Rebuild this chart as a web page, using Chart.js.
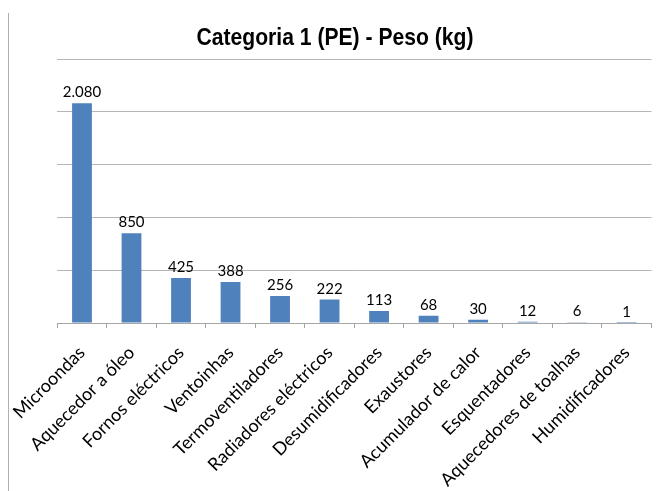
<!DOCTYPE html>
<html>
<head>
<meta charset="utf-8">
<script src="https://cdn.jsdelivr.net/npm/chart.js@4/dist/chart.umd.min.js"></script>
<style>
  html, body { margin: 0; padding: 0; background: #ffffff; }
  #wrap { width: 656px; height: 491px; position: relative; }
</style>
</head>
<body>
<div id="wrap"><canvas id="c" width="656" height="491"></canvas></div>
<script>
const chartTitle = "Categoria 1 (PE) - Peso (kg)";
const categories = ["Microondas", "Aquecedor a óleo", "Fornos eléctricos", "Ventoinhas", "Termoventiladores", "Radiadores eléctricos", "Desumidificadores", "Exaustores", "Acumulador de calor", "Esquentadores", "Aquecedores de toalhas", "Humidificadores"];
const pesoKg = [2080, 850, 425, 388, 256, 222, 113, 68, 30, 12, 6, 1];
const yTicks = [0, 500, 1000, 1500, 2000, 2500];

function fmt(v) {
  return String(v).replace(/\B(?=(\d{3})+(?!\d))/g, ".");
}

const valueLabels = {
  id: "valueLabels",
  afterDatasetsDraw(chart) {
    const ctx = chart.ctx;
    const meta = chart.getDatasetMeta(0);
    ctx.save();
    ctx.font = "15px Lato, 'Open Sans', sans-serif";
    ctx.fillStyle = "#000000";
    ctx.textAlign = "center";
    ctx.textBaseline = "alphabetic";
    meta.data.forEach((bar, i) => {
      ctx.fillText(fmt(chart.data.datasets[0].data[i]), bar.x, bar.y - 6);
    });
    ctx.restore();
  }
};

const narrowTitle = {
  id: "narrowTitle",
  afterDraw(chart) {
    const ctx = chart.ctx;
    ctx.save();
    ctx.font = "bold 24px 'Liberation Sans', Arial, sans-serif";
    ctx.fillStyle = "#000000";
    ctx.textAlign = "center";
    ctx.textBaseline = "middle";
    ctx.translate(335, 38);
    ctx.scale(0.88, 1);
    ctx.fillText(chartTitle, 0, 0);
    ctx.restore();
  }
};

const frameLine = {
  id: "frameLine",
  beforeDraw(chart) {
    const ctx = chart.ctx;
    ctx.save();
    ctx.strokeStyle = "#b0b0b0";
    ctx.lineWidth = 1;
    ctx.beginPath();
    ctx.moveTo(8.5, 13);
    ctx.lineTo(8.5, chart.height);
    ctx.stroke();
    ctx.restore();
  }
};

new Chart(document.getElementById("c"), {
  type: "bar",
  data: {
    labels: categories,
    datasets: [{
      data: pesoKg,
      backgroundColor: "#4F81BD",
      borderWidth: 0,
      barPercentage: 0.4,
      categoryPercentage: 1.0
    }]
  },
  options: {
    responsive: false,
    animation: false,
    devicePixelRatio: 1,
    layout: { padding: { left: 14, right: 4, top: 59, bottom: 0 } },
    plugins: {
      legend: { display: false },
      tooltip: { enabled: false },
      title: { display: false }
    },
    scales: {
      x: {
        grid: {
          display: true,
          offset: true,
          drawOnChartArea: false,
          drawTicks: true,
          tickLength: 5,
          color: "#a6a6a6"
        },
        border: { display: true, color: "#a6a6a6", width: 1 },
        ticks: {
          color: "#000000",
          font: { family: "Lato, 'Open Sans', sans-serif", size: 18 },
          minRotation: 45,
          maxRotation: 45,
          autoSkip: false,
          padding: 14
        },
        afterFit(scale) { scale.height = 168; }
      },
      y: {
        min: 0,
        max: 2500,
        afterBuildTicks(scale) { scale.ticks = yTicks.map(v => ({ value: v })); },
        grid: { color: "#b5b5b5", drawTicks: false, lineWidth: 1 },
        border: { display: false },
        ticks: { display: false },
        afterFit(scale) { scale.width = 41; }
      }
    }
  },
  plugins: [valueLabels, narrowTitle, frameLine]
});
</script>
</body>
</html>
